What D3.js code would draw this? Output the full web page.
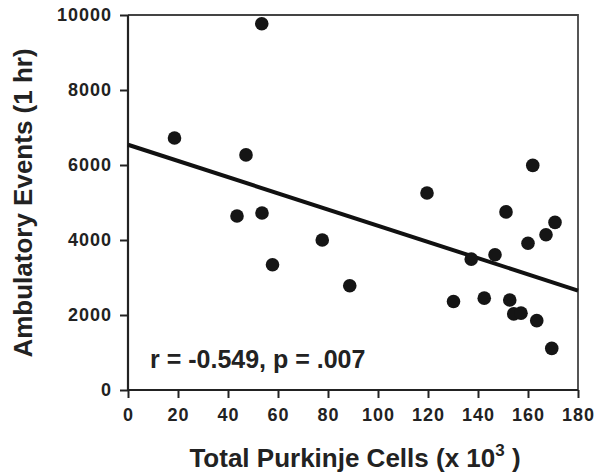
<!DOCTYPE html>
<html>
<head>
<meta charset="utf-8">
<script src="https://cdn.jsdelivr.net/npm/d3@7"></script>
<style>
  body { margin: 0; background: #fff; }
  text { font-family: "Liberation Sans", Arial, sans-serif; font-weight: bold; fill: #222; }
</style>
</head>
<body>
<svg id="root" width="601" height="473"></svg>
<script>
// purkinje cell count (x 10^3) vs ambulatory events in 1 hr
const cells = [18.6, 53.5, 47.2, 43.6, 53.6, 57.8, 77.7, 88.7, 119.6, 130.2, 137.3, 146.8, 142.5, 152.7, 154.3, 157.2, 163.5, 169.5, 160.0, 167.2, 170.8, 161.9, 151.2];
const events = [6720, 9765, 6270, 4640, 4720, 3340, 4000, 2780, 5255, 2360, 3490, 3605, 2450, 2400, 2030, 2050, 1850, 1110, 3915, 4140, 4470, 5990, 4750];
const xTicks = [0, 20, 40, 60, 80, 100, 120, 140, 160, 180];
const yTicks = [0, 2000, 4000, 6000, 8000, 10000];
const fitIntercept = 6540;
const fitSlope = -21.6;
const statsLabel = 'r = -0.549, p = .007';

const root = d3.select('#root');
const plotL = 128, plotR = 578, plotT = 15, plotB = 390;

const x = d3.scaleLinear().domain([0, 180]).range([plotL, plotR]);
const y = d3.scaleLinear().domain([0, 10000]).range([plotB, plotT]);

// frame: top and right
root.append('path')
    .attr('d', `M${plotL},${plotT}H${plotR}V${plotB}`)
    .attr('fill', 'none')
    .attr('stroke', '#444')
    .attr('stroke-width', 1.8);

const xAxis = root.append('g')
    .attr('transform', `translate(0,${plotB})`)
    .call(d3.axisBottom(x).tickValues(xTicks).tickSize(8).tickPadding(10).tickFormat(d3.format('d')));
const yAxis = root.append('g')
    .attr('transform', `translate(${plotL},0)`)
    .call(d3.axisLeft(y).tickValues(yTicks).tickSize(8).tickPadding(8).tickFormat(d3.format('d')));

[xAxis, yAxis].forEach(g => {
    g.select('.domain').attr('stroke', '#222').attr('stroke-width', 2.2);
    g.selectAll('.tick line').attr('stroke', '#222').attr('stroke-width', 2);
    g.selectAll('.tick text').attr('font-size', 18).attr('fill', '#222')
        .attr('letter-spacing', 1)
        .attr('font-family', '"Liberation Sans", Arial, sans-serif').attr('font-weight', 'bold');
});
yAxis.select('.domain').attr('d', `M0,${plotB}V${plotT}`);
xAxis.select('.domain').attr('d', `M${plotL},0H${plotR}`);

// regression line
root.append('line')
    .attr('x1', x(0)).attr('y1', y(fitIntercept))
    .attr('x2', x(180)).attr('y2', y(fitIntercept + fitSlope * 180))
    .attr('stroke', '#111')
    .attr('stroke-width', 4);

root.selectAll('circle.pt')
    .data(d3.zip(cells, events))
    .enter()
    .append('circle')
    .attr('class', 'pt')
    .attr('cx', d => x(d[0]))
    .attr('cy', d => y(d[1]))
    .attr('r', 6.8)
    .attr('fill', '#151515');

root.append('text')
    .attr('x', 150).attr('y', 368)
    .attr('font-size', 25)
    .text(statsLabel);

const xt = root.append('text')
    .attr('x', 355).attr('y', 467)
    .attr('text-anchor', 'middle')
    .attr('font-size', 26);
xt.append('tspan').text('Total Purkinje Cells (x 10');
xt.append('tspan').attr('dy', -11).attr('font-size', 17).text('3');
xt.append('tspan').attr('dy', 11).text(' )');

root.append('text')
    .attr('transform', 'translate(32,203) rotate(-90)')
    .attr('text-anchor', 'middle')
    .attr('font-size', 26)
    .text('Ambulatory Events (1 hr)');
</script>
</body>
</html>
